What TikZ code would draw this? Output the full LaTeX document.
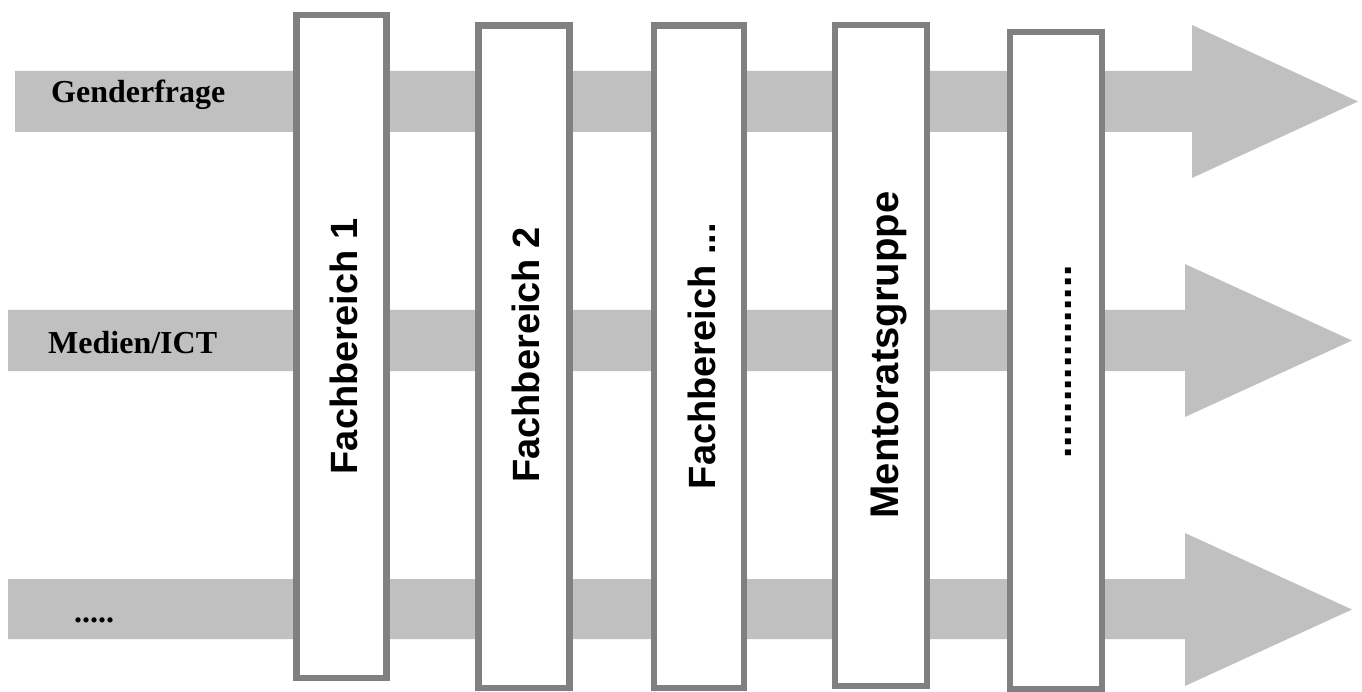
\documentclass[tikz,border=0pt]{standalone}
\usepackage{fontspec}
\setmainfont{Liberation Serif}
\newfontfamily\sansbold{Liberation Sans}
\definecolor{arrowgray}{HTML}{C0C0C0}
\definecolor{boxgray}{HTML}{808080}
\begin{document}
\begin{tikzpicture}[x=1pt,y=-1pt,
  bigarrow/.style={fill=arrowgray,draw=none},
  column/.style={fill=white,draw=boxgray,line width=6.5pt,line join=miter},
  rowlabel/.style={font=\fontsize{32}{36}\selectfont\bfseries,anchor=base west,inner sep=0pt},
  collabel/.style={font=\sansbold\fontsize{38}{42}\selectfont\bfseries,rotate=90,anchor=base,inner sep=0pt}]
\useasboundingbox (0,0) rectangle (1362,692);
% arrows
\fill[bigarrow] (15,71) -- (1192,71) -- (1192,25) -- (1358,101.5) -- (1192,178) -- (1192,132) -- (15,132) -- cycle;
\fill[bigarrow] (8,310) -- (1185,310) -- (1185,264) -- (1352,340.5) -- (1185,417) -- (1185,371) -- (8,371) -- cycle;
\fill[bigarrow] (8,579) -- (1185,579) -- (1185,533) -- (1352,609.5) -- (1185,686) -- (1185,639) -- (8,639) -- cycle;
% row labels
\node[rowlabel] (gender) at (51,103) {Genderfrage};
\node[rowlabel] (medien) at (48,354) {Medien/ICT};
\node[rowlabel] (more) at (74,622) {.....};
% columns
\draw[column] (296.5,15) rectangle (386.5,678);
\draw[column] (478.5,25.5) rectangle (569.5,688);
\draw[column] (654,25.5) rectangle (744,688);
\draw[column] (835,25) rectangle (927,686);
\draw[column] (1010,32) rectangle (1102,689);
% column labels
\node[collabel] (fb1) at (357.5,346.5) {Fachbereich 1};
\node[collabel] (fb2) at (539.5,355) {Fachbereich 2};
\node[collabel] (fb3) at (715.5,356) {Fachbereich ...};
\node[collabel,font=\sansbold\fontsize{40}{44}\selectfont\bfseries] (mentor) at (898,355) {Mentoratsgruppe};
\node[collabel,font=\sansbold\fontsize{41}{45}\selectfont\bfseries] (dots) at (1071,362) {.................};
\end{tikzpicture}
\end{document}
